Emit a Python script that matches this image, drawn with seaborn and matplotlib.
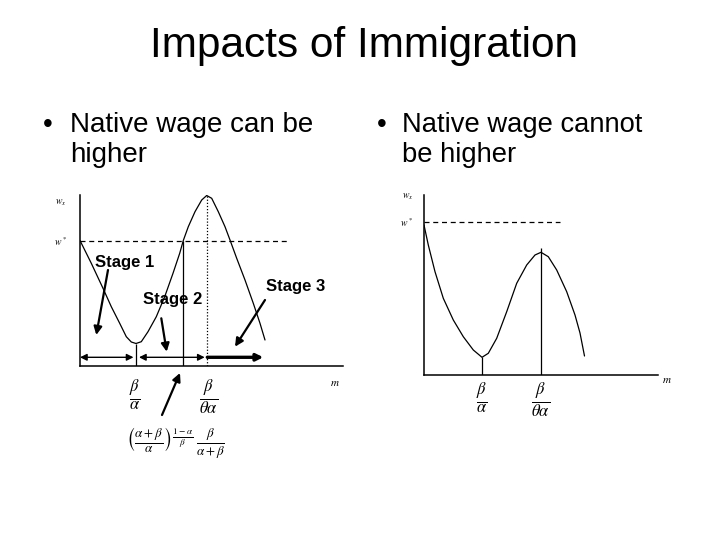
import matplotlib
matplotlib.use("Agg")
import matplotlib.pyplot as plt
import seaborn as sns

# ---------------- data ----------------
title = "Impacts of Immigration"
bullet_left = ["Native wage can be", "higher"]
bullet_right = ["Native wage cannot", "be higher"]

# left diagram: native wage curve (m, w)
left_m = [0, 11.3, 23, 31.3, 39.7, 46.3, 51.3, 56, 61.3, 68, 76.3, 84.7, 93, 99.7,
          103.3, 108.3, 115, 121.7, 126.7, 131.7, 138.3, 145, 150, 156.7, 165, 173.3, 180, 185]
left_w = [125.5, 102.7, 77.7, 59.3, 42.7, 29.3, 24, 22.5, 24.3, 34.3, 49.3, 69.3, 92.7, 112.7,
          125.5, 139.3, 154.3, 166, 170.5, 167.7, 154.3, 139.3, 126, 107.7, 86, 62.7, 42.7, 26]
left_wstar = 125.5
left_min_m, left_min_w = 56, 22.5
left_cross_m = 103.3
left_peak_m, left_peak_w = 126.7, 170.5
left_xmax, left_ymax = 263, 171
left_dash_end = 208

# right diagram
right_m = [0, 4.3, 11, 19.3, 29.3, 39.3, 49.3, 58, 64.3, 72.7, 82.7, 92.7, 102.7, 111,
           117, 124.3, 132.7, 142.7, 151, 156, 160.5]
right_w = [150, 130, 103.3, 76.7, 55, 38.3, 25, 17.7, 21.7, 36.7, 63.3, 91.7, 110, 120,
           122.7, 118.3, 105, 83.3, 60, 42, 19]
right_wstar = 153
right_min_m, right_min_w = 58, 17.7
right_peak_m, right_peak_top = 117, 127
right_xmax, right_ymax = 234, 180
right_dash_end = 136

tick_labels = [r"$\frac{\beta}{\alpha}$", r"$\frac{\beta}{\theta\alpha}$"]
formula = r"$\left(\frac{\alpha+\beta}{\alpha}\right)^{\frac{1-\alpha}{\beta}}\,\frac{\beta}{\alpha+\beta}$"

stage_labels = ["Stage 1", "Stage 2", "Stage 3"]
stage_pos = [(45, 99), (92.5, 62), (215.5, 75.3)]
# pointer arrows (tail -> tip)
stage_arrows = [((28, 96), (16.3, 31)), ((81.3, 47.7), (86.7, 14.3)), ((185, 66), (155, 19.3))]
span_y = 8.7
bottom_arrow = ((82, -49), (100, -7))

# ---------------- style ----------------
sns.set_style("white")
plt.rcParams["font.family"] = ["Liberation Sans", "DejaVu Sans"]
plt.rcParams["mathtext.fontset"] = "stix"
plt.rcParams["text.color"] = "black"
plt.rcParams["xtick.color"] = "black"
plt.rcParams["ytick.color"] = "black"
plt.rcParams["axes.labelcolor"] = "black"

W, H = 720, 540
fig = plt.figure(figsize=(7.2, 5.4), dpi=100)
fig.patch.set_facecolor("white")

def frac_axes(x0, y_top, x1, y_bottom):
    return [x0 / W, 1 - y_bottom / H, (x1 - x0) / W, (y_bottom - y_top) / H]

# overlay for slide text
ov = fig.add_axes([0, 0, 1, 1])
ov.set_xlim(0, W)
ov.set_ylim(H, 0)
ov.axis("off")
ov.text(364, 56.7, title, fontsize=30.5, ha="center", va="baseline", color="black")
ov.text(43, 131.7, "\u2022", fontsize=20, ha="left", va="baseline", color="black")
ov.text(70, 131.7, bullet_left[0], fontsize=20, ha="left", va="baseline", color="black")
ov.text(70.5, 162.5, bullet_left[1], fontsize=20, ha="left", va="baseline", color="black")
ov.text(377, 131.7, "\u2022", fontsize=20, ha="left", va="baseline", color="black")
ov.text(402, 131.7, bullet_right[0], fontsize=19.7, ha="left", va="baseline", color="black")
ov.text(402, 162.5, bullet_right[1], fontsize=19.7, ha="left", va="baseline", color="black")


def setup(ax, xmax, ymax):
    ax.set_xlim(0, xmax)
    ax.set_ylim(0, ymax)
    ax.patch.set_alpha(0)
    for s in ["top", "right"]:
        ax.spines[s].set_visible(False)
    for s in ["left", "bottom"]:
        ax.spines[s].set_color("black")
        ax.spines[s].set_linewidth(1.1)
    ax.tick_params(axis="both", length=0, colors="black")


# ---------------- left diagram ----------------
axL = fig.add_axes(frac_axes(80, 195, 343, 366))
setup(axL, left_xmax, left_ymax)
sns.lineplot(x=left_m, y=left_w, sort=False, estimator=None, color="black", lw=0.9, ax=axL)
axL.hlines(left_wstar, 0, left_dash_end, colors="black", lw=0.9, linestyles=(0, (4, 3)))
axL.vlines(left_min_m, 0, left_min_w, colors="black", lw=0.9)
axL.vlines(left_cross_m, 0, left_wstar, colors="black", lw=0.9)
axL.vlines(left_peak_m, 0, left_peak_w, colors="black", lw=0.9, linestyles=(0, (1, 1.5)))

axL.set_xticks([left_min_m - 1, left_peak_m + 1.5])
axL.set_xticklabels(tick_labels, fontsize=17)
axL.tick_params(axis="x", pad=8)
axL.set_yticks([left_wstar])
axL.set_yticklabels([r"$w^*$"], fontsize=7)
axL.tick_params(axis="y", pad=9)
axL.text(-19, 163, r"$w_x$", fontsize=7, ha="center", va="center", clip_on=False)
axL.text(255, -17, r"$m$", fontsize=8, ha="center", va="center", clip_on=False)

for lab, (x, y) in zip(stage_labels, stage_pos):
    axL.text(x, y, lab, fontsize=12, fontweight="bold", ha="center", va="baseline")

for (tail, tip) in stage_arrows:
    axL.annotate("", xy=tip, xytext=tail,
                 arrowprops=dict(arrowstyle="-|>", color="black", lw=1.6, mutation_scale=12,
                                 shrinkA=0, shrinkB=0))
axL.annotate("", xy=bottom_arrow[1], xytext=bottom_arrow[0], annotation_clip=False,
             arrowprops=dict(arrowstyle="-|>", color="black", lw=1.6, mutation_scale=12,
                             shrinkA=0, shrinkB=0))
axL.annotate("", xy=(left_min_m - 2.5, span_y), xytext=(0, span_y),
             arrowprops=dict(arrowstyle="<|-|>", color="black", lw=1.0, mutation_scale=10,
                             shrinkA=0, shrinkB=0))
axL.annotate("", xy=(left_peak_m - 2, span_y), xytext=(left_min_m + 3, span_y),
             arrowprops=dict(arrowstyle="<|-|>", color="black", lw=1.0, mutation_scale=10,
                             shrinkA=0, shrinkB=0))
axL.annotate("", xy=(183.3, span_y), xytext=(left_peak_m + 0.6, span_y),
             arrowprops=dict(arrowstyle="-|>", color="black", lw=2.4, mutation_scale=10,
                             shrinkA=0, shrinkB=0))

ov.text(175, 443, formula, fontsize=13.5, ha="center", va="center", color="black")

# ---------------- right diagram ----------------
axR = fig.add_axes(frac_axes(424, 195, 658, 375))
setup(axR, right_xmax, right_ymax)
sns.lineplot(x=right_m, y=right_w, sort=False, estimator=None, color="black", lw=0.9, ax=axR)
axR.hlines(right_wstar, 0, right_dash_end, colors="black", lw=0.9, linestyles=(0, (4, 3)))
axR.vlines(right_min_m, 0, right_min_w, colors="black", lw=0.9)
axR.vlines(right_peak_m, 0, right_peak_top, colors="black", lw=0.9)

axR.set_xticks([right_min_m, right_peak_m])
axR.set_xticklabels(tick_labels, fontsize=17)
axR.tick_params(axis="x", pad=4)
axR.set_yticks([right_wstar])
axR.set_yticklabels([r"$w^*$"], fontsize=7)
axR.tick_params(axis="y", pad=8)
axR.text(-16.5, 178, r"$w_x$", fontsize=7, ha="center", va="center", clip_on=False)
axR.text(243, -5, r"$m$", fontsize=8, ha="center", va="center", clip_on=False)

fig.savefig("out.png", dpi=100, facecolor="white")
